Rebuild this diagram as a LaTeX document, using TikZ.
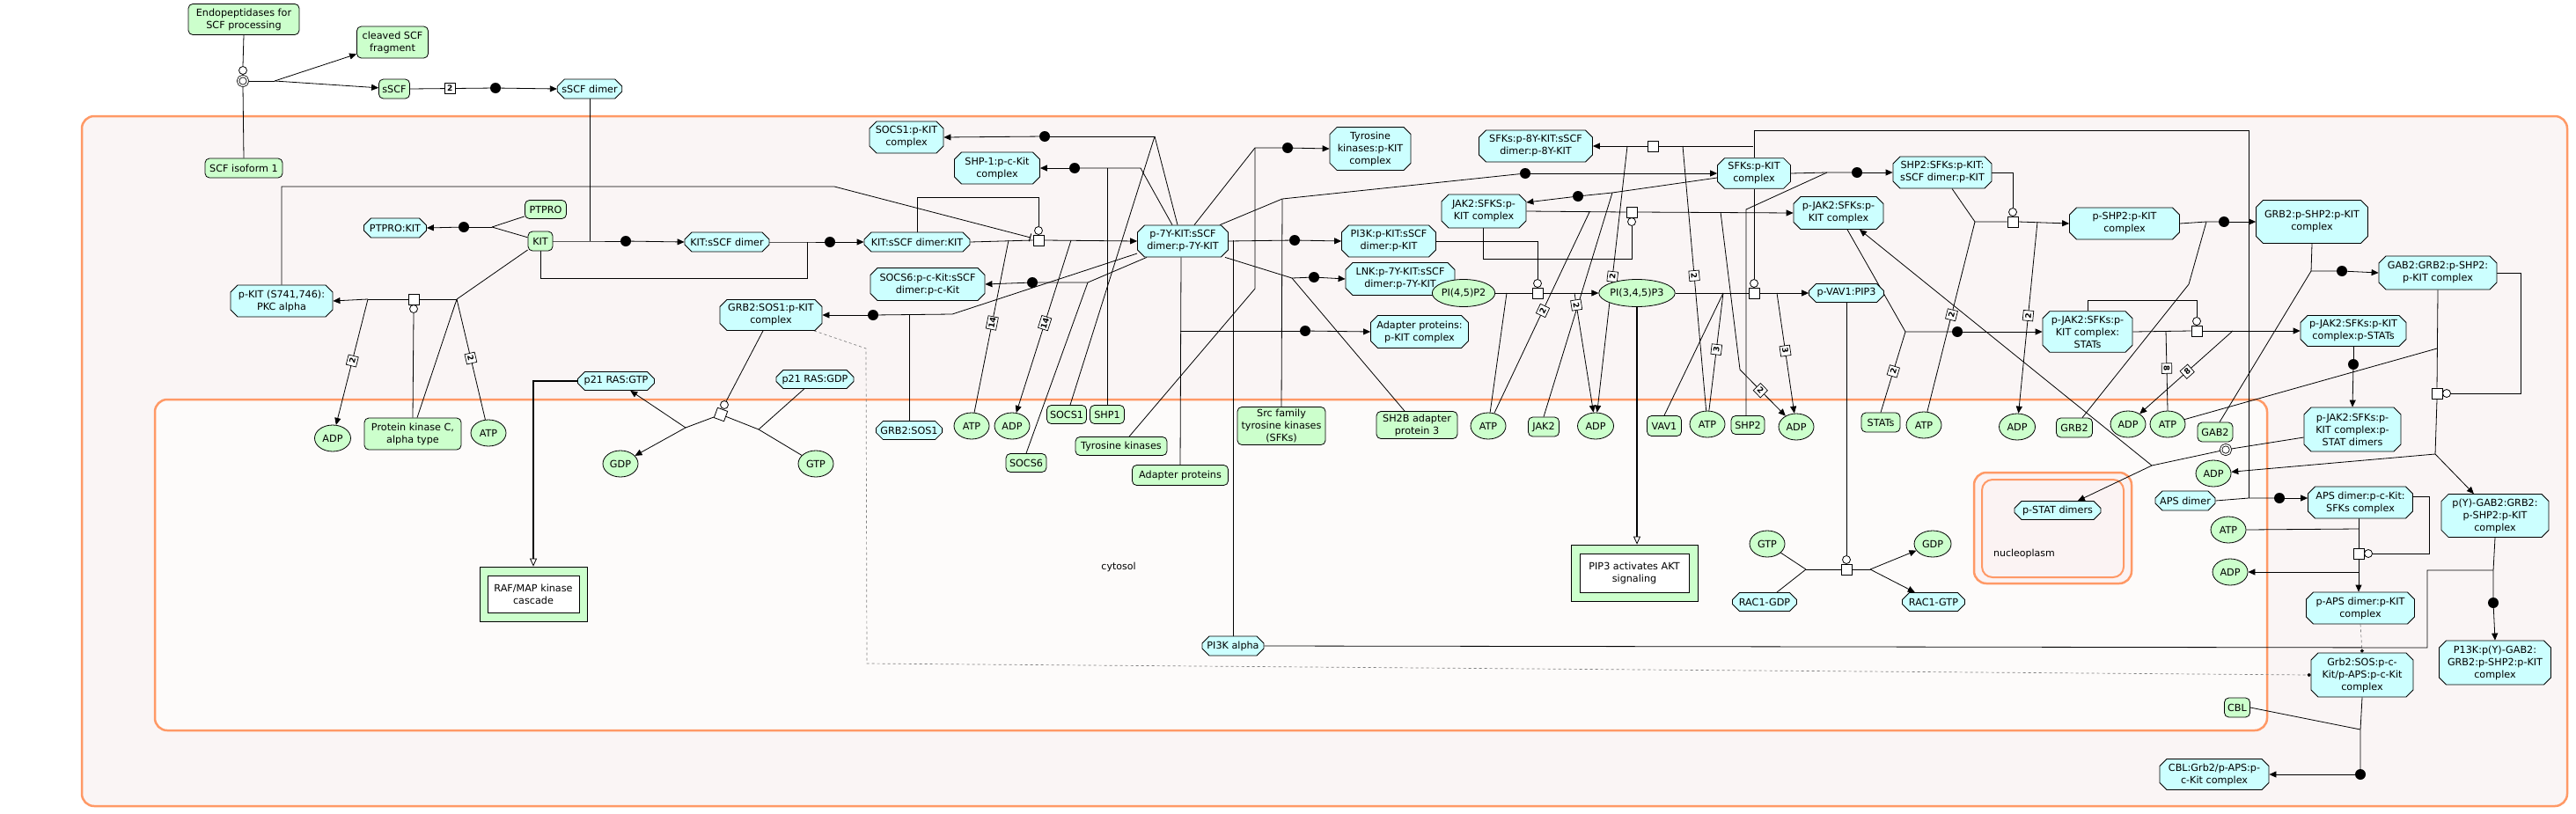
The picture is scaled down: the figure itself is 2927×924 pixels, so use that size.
\documentclass[tikz,border=0pt]{standalone}
\usepackage{fontspec}
\setmainfont{DejaVu Sans}
\usetikzlibrary{shapes.misc,shapes.geometric,arrows.meta}
\pgfdeclarelayer{back}
\pgfdeclarelayer{mid}
\pgfsetlayers{back,mid,main}
\definecolor{cpxfill}{RGB}{204,255,255}
\definecolor{protfill}{RGB}{204,255,204}
\definecolor{compline}{RGB}{255,153,102}
\definecolor{outfill}{RGB}{250,245,245}
\definecolor{cytfill}{RGB}{253,251,250}
\definecolor{nucfill}{RGB}{251,243,243}
\tikzset{
  lbl/.style={font=\fontsize{11.2}{14}\selectfont, align=center},
  cpx/.style={lbl, chamfered rectangle, chamfered rectangle xsep=4pt, chamfered rectangle ysep=4pt, draw=black, fill=cpxfill, line width=0.8pt, inner xsep=1pt, inner ysep=1pt},
  prot/.style={lbl, rectangle, rounded corners=5pt, draw=black, fill=protfill, line width=0.8pt, inner xsep=1pt, inner ysep=1pt},
  sm/.style={lbl, ellipse, draw=black, fill=protfill, line width=0.8pt, inner sep=0pt, minimum width=40pt, minimum height=30pt},
  pwo/.style={rectangle, draw=black, fill=protfill, line width=0.8pt, inner sep=0pt},
  pwi/.style={lbl, rectangle, draw=black, fill=white, line width=0.8pt, inner sep=0pt},
  proc/.style={rectangle, draw=black, fill=white, line width=0.8pt, minimum size=12pt, inner sep=0pt},
  catc/.style={circle, draw=black, fill=white, line width=0.8pt, minimum size=9pt, inner sep=0pt},
  assocdot/.style={circle, fill=black, minimum size=12pt, inner sep=0pt},
  dis/.style={circle, draw=black, double=white, double distance=1.5pt, fill=white, minimum size=11pt, inner sep=0pt, line width=0.8pt},
  stoich/.style={rectangle, draw=black, fill=white, font=\fontsize{9}{9}\selectfont\bfseries, inner sep=1pt, minimum size=11.5pt, line width=0.7pt},
  ln/.style={line width=0.8pt, draw=black},
  arr/.style={ln, -{Triangle[length=8pt,width=7pt]}},
  oarr/.style={line width=1.6pt, draw=black, -{Triangle[open,length=9pt,width=8pt,line width=0.8pt]}},
  inh/.style={ln, -{Bar[width=9pt,line width=1pt]}},
  dsh/.style={line width=0.7pt, draw=gray, dashed, -{Circle[length=4pt,color=black]}},
  comp/.style={draw=compline, line width=2.5pt, rounded corners=14pt},
  cmptext/.style={font=\fontsize{11}{13}\selectfont},
}
\begin{document}
\begin{tikzpicture}[x=1pt,y=-1pt]
\useasboundingbox (0,0) rectangle (2927,924);
\begin{pgfonlayer}{back}
\fill[white] (0,0) rectangle (2927,924);
\draw[comp, fill=outfill] (93,132) rectangle (2917,916);
\draw[comp, fill=cytfill] (176,454) rectangle (2576,830);
\draw[comp, fill=nucfill] (2243,537) rectangle (2422,663);
\draw[comp, line width=2pt, rounded corners=12pt] (2252,545) rectangle (2413,656);
\end{pgfonlayer}
\node[cmptext] (cytlbl) at (1271,644) {cytosol};
\node[cmptext] (nuclbl) at (2300,629) {nucleoplasm};

% proteins
\node[prot, minimum width=126pt, minimum height=35pt] (endo) at (277,22) {Endopeptidases for\\SCF processing};
\node[prot, minimum width=81pt, minimum height=36pt] (cleaved) at (446,48) {cleaved SCF\\fragment};
\node[prot, minimum width=35pt, minimum height=22pt] (sscf) at (448,101) {sSCF};
\node[prot, minimum width=88pt, minimum height=22pt] (scfiso) at (277,191) {SCF isoform 1};
\node[prot, minimum width=47pt, minimum height=21pt] (ptpro) at (620,238) {PTPRO};
\node[prot, minimum width=28pt, minimum height=22pt] (kit) at (614,274) {KIT};
\node[prot, minimum width=110pt, minimum height=36pt] (pkc) at (469,493) {Protein kinase C,\\alpha type};
\node[prot, minimum width=45pt, minimum height=21pt] (socs1) at (1212,471) {SOCS1};
\node[prot, minimum width=39pt, minimum height=21pt] (shp1) at (1258,471) {SHP1};
\node[prot, minimum width=46pt, minimum height=21pt] (socs6) at (1166,526) {SOCS6};
\node[prot, minimum width=104pt, minimum height=21pt] (tyrk) at (1274,507) {Tyrosine kinases};
\node[prot, minimum width=109pt, minimum height=23pt] (adapt) at (1341,540) {Adapter proteins};
\node[prot, minimum width=100pt, minimum height=43pt] (sfks) at (1456,484) {Src family\\tyrosine kinases\\(SFKs)};
\node[prot, minimum width=92pt, minimum height=31pt] (sh2b) at (1610,483) {SH2B adapter\\protein 3};
\node[prot, minimum width=35pt, minimum height=22pt] (jak2) at (1754,485) {JAK2};
\node[prot, minimum width=39pt, minimum height=23pt] (vav1) at (1891,484) {VAV1};
\node[prot, minimum width=38pt, minimum height=21pt] (shp2) at (1986,483) {SHP2};
\node[prot, minimum width=44pt, minimum height=22pt] (stats) at (2137,480) {STATs};
\node[prot, minimum width=41pt, minimum height=22pt] (grb2) at (2357,486) {GRB2};
\node[prot, minimum width=40pt, minimum height=22pt] (gab2) at (2517,491) {GAB2};
\node[prot, minimum width=29pt, minimum height=22pt] (cbl) at (2542,804) {CBL};

% small molecules
\node[sm, minimum width=41pt] (adp1) at (378,498) {ADP};
\node[sm] (atp1) at (555,492) {ATP};
\node[sm] (gdp1) at (705,527) {GDP};
\node[sm] (gtp1) at (927,527) {GTP};
\node[sm] (atp2) at (1104,484) {ATP};
\node[sm] (adp2) at (1150,484) {ADP};
\node[sm] (atp3) at (1691,484) {ATP};
\node[sm, minimum width=41pt] (adp3) at (1813,484) {ADP};
\node[sm] (atp4) at (1940,482) {ATP};
\node[sm] (adp4) at (2041,485) {ADP};
\node[sm] (atp5) at (2186,483) {ATP};
\node[sm, minimum width=41pt] (adp5) at (2292,485) {ADP};
\node[sm] (adp6) at (2418,482) {ADP};
\node[sm] (atp6) at (2463,482) {ATP};
\node[sm] (adp7) at (2515,538) {ADP};
\node[sm] (atp7) at (2532,602) {ATP};
\node[sm] (adp8) at (2534,650) {ADP};
\node[sm] (gtp2) at (2008,618) {GTP};
\node[sm, minimum width=42pt] (gdp2) at (2196,618) {GDP};

% complexes
\node[cpx, minimum width=73pt, minimum height=22pt] (sscfd) at (670,101) {sSCF dimer};
\node[cpx, minimum width=71pt, minimum height=22pt] (ptprokit) at (449,259) {PTPRO:KIT};
\node[cpx, minimum width=116pt, minimum height=36pt] (pkitpkc) at (320,342) {p-KIT (S741,746):\\PKC alpha};
\node[cpx, minimum width=96pt, minimum height=22pt] (kitsscf) at (826,275) {KIT:sSCF dimer};
\node[cpx, minimum width=120pt, minimum height=22pt] (kitsscfkit) at (1042,275) {KIT:sSCF dimer:KIT};
\node[cpx, minimum width=116pt, minimum height=35pt] (grb2sos1pkit) at (876,358) {GRB2:SOS1:p-KIT\\complex};
\node[cpx, minimum width=87pt, minimum height=21pt] (p21gtp) at (700,433) {p21 RAS:GTP};
\node[cpx, minimum width=88pt, minimum height=21pt] (p21gdp) at (926,431) {p21 RAS:GDP};
\node[cpx, minimum width=84pt, minimum height=36pt] (socs1pkit) at (1030,156) {SOCS1:p-KIT\\complex};
\node[cpx, minimum width=97pt, minimum height=36pt] (shp1pckit) at (1133,191) {SHP-1:p-c-Kit\\complex};
\node[cpx, minimum width=103pt, minimum height=36pt] (p7y) at (1344,274) {p-7Y-KIT:sSCF\\dimer:p-7Y-KIT};
\node[cpx, minimum width=130pt, minimum height=37pt] (socs6c) at (1054,323) {SOCS6:p-c-Kit:sSCF\\dimer:p-c-Kit};
\node[cpx, minimum width=74pt, minimum height=21pt] (grb2sos1) at (1033,489) {GRB2:SOS1};
\node[cpx, minimum width=92pt, minimum height=45pt] (tyrkpkit) at (1557,169) {Tyrosine\\kinases:p-KIT\\complex};
\node[cpx, minimum width=107pt, minimum height=36pt] (pi3kpkit) at (1578,274) {PI3K:p-KIT:sSCF\\dimer:p-KIT};
\node[cpx, minimum width=124pt, minimum height=37pt] (lnk) at (1591,317) {LNK:p-7Y-KIT:sSCF\\dimer:p-7Y-KIT};
\node[cpx, minimum width=111pt, minimum height=37pt] (adaptpkit) at (1613,377) {Adapter proteins:\\p-KIT complex};
\node[cpx, minimum width=129pt, minimum height=36pt] (sfks8y) at (1745,166) {SFKs:p-8Y-KIT:sSCF\\dimer:p-8Y-KIT};
\node[cpx, minimum width=83pt, minimum height=33pt] (sfkspkit) at (1993,197) {SFKs:p-KIT\\complex};
\node[cpx, minimum width=96pt, minimum height=38pt] (jak2c) at (1686,240) {JAK2:SFKS:p-\\KIT complex};
\node[cpx, minimum width=70pt, minimum height=22pt] (pi3ka) at (1401,734) {PI3K alpha};
\node[cpx, minimum width=112pt, minimum height=36pt] (shp2c) at (2207,196) {SHP2:SFKs:p-KIT:\\sSCF dimer:p-KIT};
\node[cpx, minimum width=102pt, minimum height=37pt] (pjak2) at (2089,242) {p-JAK2:SFKs:p-\\KIT complex};
\node[cpx, minimum width=85pt, minimum height=21pt] (pvav1) at (2098,333) {p-VAV1:PIP3};
\node[cpx, minimum width=125pt, minimum height=36pt] (pshp2) at (2414,254) {p-SHP2:p-KIT\\complex};
\node[cpx, minimum width=102pt, minimum height=46pt] (pjak2stats) at (2372,377) {p-JAK2:SFKs:p-\\KIT complex:\\STATs};
\node[cpx, minimum width=127pt, minimum height=49pt] (grb2pshp2) at (2627,252) {GRB2:p-SHP2:p-KIT\\complex};
\node[cpx, minimum width=134pt, minimum height=38pt] (gab2c) at (2770,310) {GAB2:GRB2:p-SHP2:\\p-KIT complex};
\node[cpx, minimum width=120pt, minimum height=35pt] (pstats) at (2674,376) {p-JAK2:SFKs:p-KIT\\complex:p-STATs};
\node[cpx, minimum width=110pt, minimum height=50pt] (pstatdimc) at (2673,488) {p-JAK2:SFKs:p-\\KIT complex:p-\\STAT dimers};
\node[cpx, minimum width=98pt, minimum height=21pt] (pstatdim) at (2338,580) {p-STAT dimers};
\node[cpx, minimum width=73pt, minimum height=21pt] (rac1gdp) at (2005,684) {RAC1-GDP};
\node[cpx, minimum width=71pt, minimum height=21pt] (rac1gtp) at (2197,684) {RAC1-GTP};
\node[cpx, minimum width=68pt, minimum height=22pt] (apsd) at (2483,569) {APS dimer};
\node[cpx, minimum width=119pt, minimum height=36pt] (apsc) at (2682,571) {APS dimer:p-c-Kit:\\SFKs complex};
\node[cpx, minimum width=123pt, minimum height=36pt] (papsc) at (2682,691) {p-APS dimer:p-KIT\\complex};
\node[cpx, minimum width=116pt, minimum height=50pt] (grb2sosc) at (2684,767) {Grb2:SOS:p-c-\\Kit/p-APS:p-c-Kit\\complex};
\node[cpx, minimum width=124pt, minimum height=35pt] (cblc) at (2516,880) {CBL:Grb2/p-APS:p-\\c-Kit complex};
\node[cpx, minimum width=122pt, minimum height=48pt] (pygab2) at (2835,586) {p(Y)-GAB2:GRB2:\\p-SHP2:p-KIT\\complex};
\node[cpx, minimum width=127pt, minimum height=50pt] (p13k) at (2835,753) {P13K:p(Y)-GAB2:\\GRB2:p-SHP2:p-KIT\\complex};
\node[sm, minimum width=71pt, minimum height=31pt] (pip2) at (1663,333) {PI(4,5)P2};
\node[sm, minimum width=83pt, minimum height=31pt] (pip3) at (1860,333) {PI(3,4,5)P3};

% pathways
\node[pwo, minimum width=122pt, minimum height=62pt] (rafmap) at (606,675) {};
\node[pwi, minimum width=104pt, minimum height=42pt] (rafmapin) at (606,675) {RAF/MAP kinase\\cascade};
\node[pwo, minimum width=144pt, minimum height=64pt] (pip3akt) at (1857,651) {};
\node[pwi, minimum width=124pt, minimum height=44pt] (pip3aktin) at (1857,651) {PIP3 activates AKT\\signaling};

% process glyphs
\node[dis] (d1) at (276,92) {};
\node[catc] (c1) at (276,80) {};
\node[assocdot] (a1) at (563,100) {};
\node[assocdot] (a2) at (527,258) {};
\node[assocdot] (a3) at (711,274) {};
\node[assocdot] (a4) at (943,275) {};
\node[proc] (p1) at (470,340) {};
\node[catc] (cp1) at (470,351) {};
\node[proc] (p2) at (1180,273) {};
\node[catc] (cp2) at (1180,262) {};
\node[assocdot] (a5) at (1187,155) {};
\node[assocdot] (a6) at (1221,191) {};
\node[assocdot] (a7) at (1173,321) {};
\node[assocdot] (a8) at (992,358) {};
\node[proc, rotate=-20] (p3) at (819,471) {};
\node[catc] (cp3) at (823,460) {};
\node[assocdot] (a9) at (1463,168) {};
\node[assocdot] (a10) at (1471,273) {};
\node[assocdot] (a11) at (1493,315) {};
\node[assocdot] (a12) at (1483,376) {};
\node[assocdot] (a13) at (1733,197) {};
\node[proc] (p4) at (1878,166) {};
\node[assocdot] (a14) at (1793,223) {};
\node[proc] (p5) at (1854,241) {};
\node[catc] (cp5) at (1854,252) {};
\node[proc] (p6) at (1747,333) {};
\node[catc] (cp6) at (1747,322) {};
\node[proc] (p7) at (1993,333) {};
\node[catc] (cp7) at (1993,322) {};
\node[assocdot] (a15) at (2110,196) {};
\node[proc] (p8) at (2287,252) {};
\node[catc] (cp8) at (2287,241) {};
\node[assocdot] (a16) at (2224,377) {};
\node[proc] (p9) at (2496,376) {};
\node[catc] (cp9) at (2496,365) {};
\node[assocdot] (a17) at (2527,252) {};
\node[assocdot] (a18) at (2661,308) {};
\node[proc] (p10) at (2769,447) {};
\node[catc] (cp10) at (2780,447) {};
\node[assocdot] (a19) at (2674,414) {};
\node[dis] (d2) at (2529,511) {};
\node[proc] (p11) at (2098,647) {};
\node[catc] (cp11) at (2098,636) {};
\node[assocdot] (a20) at (2590,566) {};
\node[proc] (p12) at (2680,629) {};
\node[catc] (cp12) at (2691,629) {};
\node[assocdot] (a21) at (2833,685) {};
\node[assocdot] (a22) at (2682,880) {};

% junction coordinates
\coordinate (dj1) at (312,92);
\coordinate (jkit) at (670,274);
\coordinate (jptp) at (559,258);
\coordinate (jpkc) at (519,340);
\coordinate (jo1) at (418,340);
\coordinate (ib1) at (948,212);
\coordinate (ibend) at (1171,270);
\coordinate (jk2) at (917,275);
\coordinate (jk2b) at (917,316);
\coordinate (jp2in) at (1146,273);
\coordinate (jp2out) at (1217,273);
\coordinate (cp2t) at (1180,224);
\coordinate (js1) at (1312,155);
\coordinate (jsh1) at (1296,191);
\coordinate (js6) at (1236,321);
\coordinate (jg1) at (1082,357);
\coordinate (jr1) at (779,486);
\coordinate (jr2) at (862,488);
\coordinate (dsh1) at (984,396);
\coordinate (dsh2) at (985,754);
\coordinate (jtk) at (1426,168);
\coordinate (jtk2) at (1426,328);
\coordinate (jlnk) at (1468,316);
\coordinate (jsf) at (1457,226);
\coordinate (jj2) at (1832,219);
\coordinate (jp5in) at (1806,241);
\coordinate (jp5out) at (1955,241);
\coordinate (jp5b) at (1977,420);
\coordinate (cp5b) at (1854,294);
\coordinate (jp6in) at (1712,333);
\coordinate (jp6out) at (1789,333);
\coordinate (jp4r) at (1992,166);
\coordinate (jp4in) at (1912,166);
\coordinate (jp4out) at (1849,166);
\coordinate (apsbend) at (2555,148);
\coordinate (apsj) at (2555,566);
\coordinate (jp7in) at (1958,333);
\coordinate (jp7out) at (2019,333);
\coordinate (jsh2) at (2076,196);
\coordinate (jsh2b) at (1984,238);
\coordinate (jp8in) at (2244,252);
\coordinate (jp8out) at (2315,252);
\coordinate (jst) at (2165,377);
\coordinate (cp9t) at (2496,341);
\coordinate (jp9in) at (2461,376);
\coordinate (jp9out) at (2537,376);
\coordinate (jg2) at (2507,252);
\coordinate (jg2b) at (2487,323);
\coordinate (jgb) at (2626,308);
\coordinate (jp10in) at (2769,396);
\coordinate (cp10t) at (2864,310);
\coordinate (jp10out) at (2767,516);
\coordinate (jd2) at (2445,529);
\coordinate (jp11in) at (2052,647);
\coordinate (jp11out) at (2125,647);
\coordinate (jp12in) at (2680,601);
\coordinate (jp12out) at (2680,650);
\coordinate (cp12t) at (2760,564);
\coordinate (jcb) at (2682,829);
\coordinate (jpg) at (2833,648);
\coordinate (pgb) at (2758,736);

\begin{pgfonlayer}{mid}
% SCF processing
\draw[ln] (endo.south) -- (c1.north);
\draw[ln] (d1.south) -- (scfiso.north);
\draw[ln] (d1.east) -- (dj1);
\draw[arr] (dj1) -- (cleaved);
\draw[arr] (dj1) -- (sscf);
\draw[ln] (sscf.east) -- node[stoich]{2} (a1);
\draw[arr] (a1) -- (sscfd.west);
% KIT:sSCF dimer
\draw[ln] (sscfd.south) -- (jkit);
\draw[ln] (kit.east) -- (jkit) -- (a3);
\draw[arr] (a3) -- (kitsscf.west);
% PTPRO:KIT
\draw[ln] (ptpro) -- (jptp);
\draw[ln] (kit) -- (jptp);
\draw[ln] (jptp) -- (a2);
\draw[arr] (a2) -- (ptprokit.east);
% PKC phosphorylation
\draw[ln] (kit) -- (jpkc);
\draw[ln] ([xshift=5pt]pkc.north) -- (jpkc);
\draw[ln] (jpkc) -- node[stoich,sloped,pos=.49]{2} (atp1);
\draw[ln] (jpkc) -- (p1.east);
\draw[ln] (p1.west) -- (jo1);
\draw[arr] (jo1) -- (pkitpkc.east);
\draw[arr] (jo1) -- node[stoich,sloped,pos=.49]{2} (adp1);
\draw[ln] (cp1.south) -- (pkc.north);
\draw[inh] (pkitpkc.north) |- (ib1) -- (ibend);
% KIT:sSCF dimer:KIT
\draw[ln] (kitsscf.east) -- (jk2) -- (a4);
\draw[arr] (a4) -- (kitsscfkit.west);
\draw[ln] (kit.south) |- (jk2b) -- (jk2);
% autophosphorylation
\draw[ln] (kitsscfkit.east) -- (p2.west);
\draw[ln] (jp2in) -- node[stoich,sloped,pos=.48]{14} (atp2);
\draw[arr] (p2.east) -- (p7y.west);
\draw[arr] (jp2out) -- node[stoich,sloped,pos=.48]{14} (adp2);
\draw[ln] (cp2.north) -- (cp2t) -| (kitsscfkit.north);
% SOCS1
\draw[ln] ([xshift=-6pt]p7y.north) -- (js1);
\draw[ln] ([xshift=4pt]socs1.north) -- (js1);
\draw[ln] (js1) -- (a5);
\draw[arr] (a5) -- (socs1pkit.east);
% SHP-1
\draw[ln] ([xshift=-12pt]p7y.north) -- (jsh1) -- (a6);
\draw[arr] (a6) -- (shp1pckit.east);
\draw[ln] (shp1.north) -- (shp1.north |- a6);
% SOCS6
\draw[ln] ([xshift=-41pt]p7y.south) -- (js6) -- (a7);
\draw[arr] (a7) -- (socs6c.east);
\draw[ln] (socs6.north) -- (js6);
% GRB2:SOS1
\draw[ln] ([yshift=-14pt]p7y.west) -- (jg1) -- (a8);
\draw[arr] (a8) -- (grb2sos1pkit.east);
\draw[ln] (grb2sos1.north) -- (grb2sos1.north |- a8);
% RAS activation
\draw[ln] (cp3) -- ([xshift=-9pt]grb2sos1pkit.south);
\draw[ln] (jr1) -- (p3);
\draw[arr] (jr1) -- (p21gtp);
\draw[arr] (jr1) -- (gdp1);
\draw[ln] (p3) -- (jr2);
\draw[ln] (jr2) -- (p21gdp);
\draw[ln] (jr2) -- (gtp1);
\draw[oarr] (p21gtp.west) -| (rafmap.north);
\draw[dsh] ([xshift=49pt]grb2sos1pkit.south) -- (dsh1) -- (dsh2) -- (grb2sosc.west);
% Tyrosine kinases
\draw[ln] ([xshift=13pt]p7y.north) -- (jtk) -- (a9);
\draw[arr] (a9) -- (tyrkpkit.west);
\draw[ln] (jtk) -- (jtk2) -- ([xshift=9pt]tyrk.north);
% PI3K
\draw[ln] (p7y.east) -- (a10);
\draw[arr] (a10) -- (pi3kpkit.west);
\draw[ln] (pi3ka.north) -- (pi3ka.north |- a10);
% LNK
\draw[ln] ([xshift=48pt]p7y.south) -- (jlnk) -- (a11);
\draw[arr] (a11) -- (lnk.west);
\draw[ln] (jlnk) -- ([xshift=-14pt]sh2b.north);
% Adapter proteins
\draw[ln] ([xshift=-2pt]p7y.south) -- (adapt.north);
\draw[ln] (adapt.north |- a12) -- (a12);
\draw[arr] (a12) -- (adaptpkit.west);
% SFKs
\draw[ln] ([xshift=42pt]p7y.north) -- (jsf);
\draw[ln] (sfks.north) -- (jsf);
\draw[ln] (jsf) -- (a13);
\draw[arr] (a13) -- (sfkspkit.west);
% JAK2 association
\draw[ln] ([yshift=-5pt]sfkspkit.west) -- (jj2) -- (a14);
\draw[arr] (a14) -- ([yshift=10pt]jak2c.east);
\draw[ln] (jj2) -- (jak2.north);
% JAK2 phosphorylation
\draw[ln] (jak2c.east) -- (p5.west);
\draw[ln] (jp5in) -- node[stoich,sloped,pos=.49]{2} (atp3);
\draw[arr] (p5.east) -- (pjak2.west);
\draw[arr] (jp5out) -- (jp5b) -- node[stoich,sloped,pos=.45]{2} (adp4);
\draw[ln] (cp5.south) -- (cp5b) -| ([xshift=-1pt]jak2c.south);
% PI3K reaction
\draw[ln] (pip2.east) -- (p6.west);
\draw[ln] (jp6in) -- (atp3);
\draw[arr] (p6.east) -- (pip3.west);
\draw[arr] (jp6out) -- node[stoich,sloped,pos=.1]{2} (adp3);
\draw[ln] (cp6.north) |- (pi3kpkit.east);
% SFKs:p-8Y
\draw[arr] (p4.west) -- (sfks8y.east);
\draw[ln] (p4.east) -- (jp4r);
\draw[ln] (sfkspkit.north) |- (apsbend) -- (apsj);
\draw[ln] (jp4in) -- node[stoich,sloped,pos=.49]{2} (atp4);
\draw[arr] (jp4out) -- node[stoich,sloped,pos=.49]{2} (adp3);
% VAV1
\draw[ln] (cp7.north) -- (sfkspkit.south);
\draw[ln] (pip3.east) -- (p7.west);
\draw[ln] (jp7in) -- (vav1.north);
\draw[ln] (jp7in) -- node[stoich,sloped,pos=.48]{3} (atp4);
\draw[arr] (p7.east) -- (pvav1.west);
\draw[arr] (jp7out) -- node[stoich,sloped,pos=.48]{3} (adp4);
\draw[oarr] (pip3.south) -- (pip3.south |- pip3akt.north);
% SHP2 association
\draw[ln] (sfkspkit.east) -- (jsh2) -- (a15);
\draw[arr] (a15) -- (shp2c.west);
\draw[ln] ([xshift=-2pt]shp2.north) -- (jsh2b) -- (jsh2);
% SHP2 phosphorylation
\draw[ln] (shp2c.east) -| (cp8.north);
\draw[ln] ([xshift=11pt]shp2c.south) -- (jp8in) -- (p8.west);
\draw[ln] (jp8in) -- node[stoich,sloped,pos=.49]{2} (atp5);
\draw[arr] (p8.east) -- (pshp2.west);
\draw[arr] (jp8out) -- node[stoich,sloped,pos=.49]{2} (adp5);
% STAT association
\draw[ln] ([xshift=10pt]pjak2.south) -- (jst) -- (a16);
\draw[arr] (a16) -- (pjak2stats.west);
\draw[ln] (jst) -- node[stoich,sloped,pos=.49]{2} (stats.north);
% STAT phosphorylation
\draw[ln] (pjak2stats.north) |- (cp9t) -- (cp9.north);
\draw[ln] (pjak2stats.east) -- (p9.west);
\draw[ln] (jp9in) -- node[stoich,sloped,pos=.47]{8} (atp6.north);
\draw[arr] (p9.east) -- (pstats.west);
\draw[arr] (jp9out) -- node[stoich,sloped,pos=.49]{8} (adp6);
% GRB2 association
\draw[ln] (pshp2.east) -- (jg2) -- (a17);
\draw[arr] (a17) -- (grb2pshp2.west);
\draw[ln] ([xshift=9pt]grb2.north) -- (jg2b) -- (jg2);
% GAB2 association
\draw[ln] (grb2pshp2.south) -- (jgb) -- (a18);
\draw[arr] (a18) -- (gab2c.west);
\draw[ln] (jgb) -- ([xshift=5pt]gab2.north);
% GAB2 phosphorylation
\draw[ln] (gab2c.south) -- (p10.north);
\draw[ln] (atp6) -- (jp10in);
\draw[ln] (gab2c.east) -- (cp10t) |- (cp10.east);
\draw[ln] (p10.south) -- (jp10out);
\draw[arr] (jp10out) -- (adp7);
\draw[arr] (jp10out) -- (pygab2);
% p-STAT dimers
\draw[ln] (pstats.south) -- (a19);
\draw[arr] (a19) -- (pstatdimc.north);
\draw[ln] ([yshift=-9pt]pstatdimc.west) -- (d2);
\draw[ln] (d2) -- (jd2);
\draw[arr] (jd2) -- (pstatdim);
\draw[arr] (jd2) -- ([xshift=24pt]pjak2.south);
% RAC1
\draw[ln] (pvav1.south) -- (cp11.north);
\draw[ln] (gtp2) -- (jp11in);
\draw[ln] (rac1gdp) -- (jp11in);
\draw[ln] (jp11in) -- (p11.west);
\draw[ln] (p11.east) -- (jp11out);
\draw[arr] (jp11out) -- (gdp2);
\draw[arr] (jp11out) -- (rac1gtp);
% APS
\draw[ln] (apsd.east) -- (apsj) -- (a20);
\draw[arr] (a20) -- ([yshift=5pt]apsc.west);
\draw[ln] ([xshift=-2pt]apsc.south) -- (p12.north);
\draw[ln] (atp7.east) -- (jp12in);
\draw[ln] ([yshift=7pt]apsc.east) -- (cp12t) |- (cp12.east);
\draw[arr] (p12.south) -- ([xshift=-2pt]papsc.north);
\draw[arr] (jp12out) -- (adp8.east);
\draw[dsh] (papsc.south) -- (grb2sosc.north);
% CBL
\draw[ln] (grb2sosc.south) -- (jcb) -- (a22);
\draw[ln] (cbl.east) -- (jcb);
\draw[arr] (a22) -- (cblc.east);
% PI3K : p(Y)-GAB2
\draw[ln] (pygab2.south) -- (jpg) -- (a21);
\draw[arr] (a21) -- (p13k.north);
\draw[ln] (pi3ka.east) -- (pgb) |- (jpg);
\end{pgfonlayer}
\end{tikzpicture}
\end{document}
